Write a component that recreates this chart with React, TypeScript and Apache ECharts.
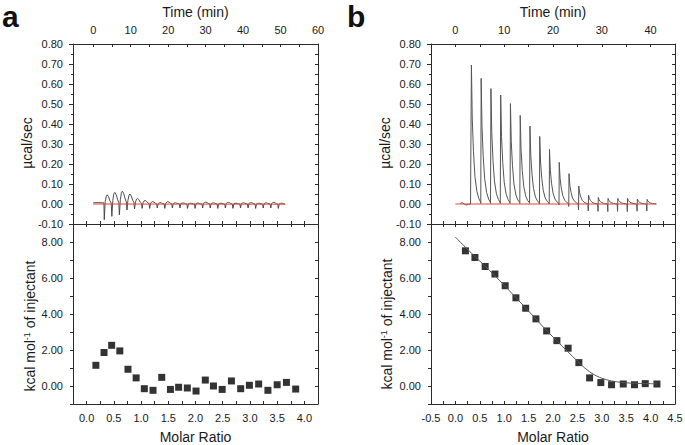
import React, { useEffect, useRef } from 'react';
import * as echarts from 'echarts';

// ---------- Panel a: raw thermogram ----------
const A_INJ_TIMES = [2.85, 4.87, 6.89, 8.91, 10.93, 12.95, 14.97, 16.99, 19.01, 21.03, 23.05, 25.07,
  27.09, 29.11, 31.13, 33.15, 35.17, 37.19, 39.21, 41.23, 43.25, 45.27, 47.29, 49.31];
const A_OFFSETS = [0, 0.1, 0.35, 0.65, 0.9, 1.25, 1.6, 1.95];
const A_PULSES = [
  [0.006, -0.078, 0.012, 0.040, 0.046, 0.036, 0.016, 0.005],
  [0.005, -0.062, 0.018, 0.052, 0.058, 0.047, 0.024, 0.008],
  [0.008, -0.054, 0.022, 0.058, 0.064, 0.052, 0.028, 0.010],
  [0.010, -0.030, 0.018, 0.045, 0.050, 0.040, 0.020, 0.007],
  [0.007, -0.024, 0.010, 0.025, 0.028, 0.022, 0.010, 0.004],
  [0.004, -0.022, 0.006, 0.016, 0.018, 0.014, 0.006, 0.002],
  [0.002, -0.022, 0.004, 0.010, 0.012, 0.009, 0.004, 0.001],
  [0.001, -0.020, 0.002, 0.006, 0.007, 0.005, 0.002, 0.000],
  [0.000, -0.022, 0.004, 0.010, 0.012, 0.009, 0.004, 0.001],
  [0.001, -0.020, 0.002, 0.005, 0.006, 0.004, 0.002, 0.000],
  [0.000, -0.020, 0.002, 0.004, 0.005, 0.004, 0.001, 0.000],
  [0.000, -0.022, 0.001, 0.003, 0.004, 0.003, 0.001, 0.000],
  [0.000, -0.022, 0.002, 0.004, 0.005, 0.003, 0.001, 0.000],
  [0.000, -0.020, 0.004, 0.008, 0.009, 0.007, 0.003, 0.001],
  [0.001, -0.020, 0.002, 0.005, 0.006, 0.004, 0.002, 0.000],
  [0.000, -0.022, 0.001, 0.003, 0.004, 0.003, 0.001, 0.000],
  [0.000, -0.020, 0.003, 0.007, 0.008, 0.006, 0.002, 0.000],
  [0.000, -0.022, 0.001, 0.003, 0.004, 0.003, 0.001, 0.000],
  [0.000, -0.020, 0.002, 0.005, 0.006, 0.004, 0.002, 0.000],
  [0.000, -0.020, 0.003, 0.006, 0.007, 0.005, 0.002, 0.000],
  [0.000, -0.022, 0.001, 0.003, 0.004, 0.003, 0.001, 0.000],
  [0.000, -0.020, 0.002, 0.005, 0.006, 0.004, 0.002, 0.000],
  [0.000, -0.020, 0.003, 0.007, 0.008, 0.006, 0.002, 0.000],
  [0.000, -0.022, 0.001, 0.003, 0.004, 0.003, 0.001, -0.001],
];
const A_PRE = [[0, 0.006], [1.4, 0.007], [2.5, 0.006]];
const A_BASELINE = [[0, 0], [51.2, -0.001]];

// ---------- Panel a: integrated heats ----------
const A_RATIO = [0.17, 0.32, 0.46, 0.61, 0.76, 0.91, 1.06, 1.22, 1.38, 1.54, 1.69, 1.85,
  2.01, 2.18, 2.33, 2.49, 2.66, 2.83, 2.99, 3.16, 3.33, 3.50, 3.67, 3.84];
const A_HEAT = [1.15, 1.86, 2.26, 1.95, 0.93, 0.45, -0.15, -0.24, 0.48, -0.19, -0.07, -0.11,
  -0.28, 0.33, 0.0, -0.19, 0.28, -0.15, 0.04, 0.11, -0.24, 0.07, 0.2, -0.17];

// ---------- Panel b: raw thermogram ----------
const B_INJ_TIMES = [3.2, 5.2, 7.2, 9.2, 11.2, 13.2, 15.2, 17.2, 19.2, 21.2, 23.2, 25.2,
  27.2, 29.2, 31.2, 33.2, 35.2, 37.2, 39.2];
const B_OFFSETS = [0, 0.03, 0.08, 0.25, 0.5, 0.8, 1.2, 1.6, 1.95];
const B_PULSES = [
  [0.000, 0.000, 0.695, 0.430, 0.264, 0.139, 0.063, 0.028, 0.010],
  [0.003, 0.000, 0.628, 0.389, 0.239, 0.126, 0.057, 0.025, 0.009],
  [0.003, 0.000, 0.577, 0.358, 0.219, 0.115, 0.052, 0.023, 0.009],
  [0.003, 0.000, 0.545, 0.338, 0.207, 0.109, 0.049, 0.022, 0.008],
  [0.003, 0.000, 0.502, 0.311, 0.191, 0.100, 0.045, 0.020, 0.008],
  [0.003, 0.000, 0.443, 0.275, 0.168, 0.089, 0.040, 0.018, 0.007],
  [0.003, 0.000, 0.390, 0.242, 0.148, 0.078, 0.035, 0.016, 0.006],
  [0.003, 0.000, 0.338, 0.210, 0.128, 0.068, 0.030, 0.014, 0.005],
  [0.002, 0.000, 0.273, 0.169, 0.104, 0.055, 0.025, 0.011, 0.004],
  [0.002, -0.005, 0.208, 0.129, 0.079, 0.042, 0.019, 0.008, 0.003],
  [0.001, -0.012, 0.152, 0.094, 0.058, 0.030, 0.014, 0.006, 0.002],
  [0.001, -0.030, 0.090, 0.056, 0.034, 0.018, 0.008, 0.004, 0.001],
  [0.000, -0.035, 0.045, 0.028, 0.017, 0.009, 0.004, 0.002, 0.001],
  [0.000, -0.037, 0.033, 0.020, 0.012, 0.007, 0.003, 0.001, 0.000],
  [0.000, -0.038, 0.028, 0.017, 0.011, 0.006, 0.003, 0.001, 0.000],
  [0.000, -0.037, 0.028, 0.017, 0.011, 0.006, 0.003, 0.001, 0.000],
  [0.000, -0.038, 0.028, 0.017, 0.010, 0.006, 0.003, 0.001, 0.000],
  [0.000, -0.036, 0.025, 0.015, 0.009, 0.005, 0.002, 0.001, 0.000],
  [0.000, -0.035, 0.023, 0.014, 0.009, 0.005, 0.002, 0.001, 0.000],
];
const B_PRE = [[1.0, 0.003], [1.4, 0.007], [1.8, 0.0], [2.2, -0.005], [2.7, -0.002], [3.1, 0]];
const B_BASELINE = [[0, 0], [41.2, 0]];

// ---------- Panel b: integrated heats + fit ----------
const B_RATIO = [0.205, 0.40, 0.61, 0.81, 1.02, 1.24, 1.44, 1.65, 1.87, 2.08, 2.31, 2.53,
  2.75, 2.98, 3.20, 3.44, 3.67, 3.89, 4.13];
const B_HEAT = [7.51, 7.14, 6.64, 6.22, 5.57, 4.90, 4.32, 3.73, 3.06, 2.52, 2.10, 1.30,
  0.45, 0.19, 0.07, 0.11, 0.07, 0.13, 0.11];
const B_FIT_X = [0, 0.2, 0.4, 0.6, 0.8, 1.0, 1.2, 1.4, 1.6, 1.8, 2.0, 2.2, 2.4, 2.6, 2.8,
  3.0, 3.2, 3.4, 3.6, 3.8, 4.0, 4.13];
const B_FIT_Y = [8.27, 7.72, 7.2, 6.68, 6.15, 5.6, 5.02, 4.45, 3.87, 3.28, 2.72, 2.18, 1.65,
  1.12, 0.7, 0.43, 0.28, 0.2, 0.16, 0.14, 0.13, 0.12];

// ---------- Tick labels ----------
const A_TIME_LABELS = [0, 10, 20, 30, 40, 50, 60];
const A_TIME_TICKS = [0, 5, 10, 15, 20, 25, 30, 35, 40, 45, 50, 55, 60];
const B_TIME_LABELS = [0, 10, 20, 30, 40];
const HEAT_LABELS = [0, 2, 4, 6, 8];

const FONT = '"Liberation Sans", Arial, Helvetica, sans-serif';
const AX = '#2b2b2b';
const TXT = '#1a1a1a';

function buildTrace(pre: number[][], times: number[], offsets: number[], rows: number[][]) {
  const out: number[][] = pre.map((p) => [p[0], p[1]]);
  times.forEach((t, i) => {
    offsets.forEach((o, j) => out.push([t + o, rows[i][j]]));
  });
  return out;
}

function axisBase(extra: any) {
  return {
    type: 'value',
    splitLine: { show: false },
    axisLine: { show: true, onZero: false, lineStyle: { color: AX, width: 1 } },
    axisTick: { show: true, inside: true, length: 3, lineStyle: { color: AX, width: 1 } },
    axisLabel: { show: false },
    ...extra,
  };
}

const labelStyle = { show: true, fontSize: 11, color: TXT, fontFamily: FONT };
const nameStyle = { fontSize: 14, color: TXT, fontFamily: FONT };

const isHalf = (v: number) => Math.abs(v * 2 - Math.round(v * 2)) < 1e-6;

const option: any = {
  animation: false,
  backgroundColor: '#ffffff',
  grid: [
    { left: 73, top: 44, width: 245, height: 180, outerBoundsMode: 'none', containLabel: false },
    { left: 73, top: 224, width: 245, height: 180, outerBoundsMode: 'none', containLabel: false },
    { left: 431, top: 44, width: 244, height: 180, outerBoundsMode: 'none', containLabel: false },
    { left: 431, top: 224, width: 244, height: 180, outerBoundsMode: 'none', containLabel: false },
  ],
  xAxis: [
    axisBase({
      gridIndex: 0, position: 'top', min: -5.4, max: 60,
      axisTick: { show: true, inside: true, length: 3, lineStyle: { color: AX }, customValues: A_TIME_TICKS },
      axisLabel: { ...labelStyle, margin: 9, customValues: A_TIME_LABELS },
      name: 'Time (min)', nameLocation: 'middle', nameGap: 25, nameTextStyle: nameStyle,
    }),
    axisBase({ gridIndex: 0, position: 'bottom', min: -0.25, max: 4.25, interval: 0.25 }),
    axisBase({
      gridIndex: 1, position: 'bottom', min: -0.25, max: 4.25, interval: 0.25,
      axisLabel: { ...labelStyle, margin: 8, formatter: (v: number) => (isHalf(v) && v >= 0 && v <= 4 ? v.toFixed(1) : '') },
      name: 'Molar Ratio', nameLocation: 'middle', nameGap: 26, nameTextStyle: nameStyle,
    }),
    axisBase({ gridIndex: 1, position: 'top', min: -0.25, max: 4.25, interval: 0.25 }),
    axisBase({
      gridIndex: 2, position: 'top', min: -5, max: 45, interval: 5,
      axisLabel: { ...labelStyle, margin: 9, customValues: B_TIME_LABELS },
      name: 'Time (min)', nameLocation: 'middle', nameGap: 25, nameTextStyle: nameStyle,
    }),
    axisBase({ gridIndex: 2, position: 'bottom', min: -0.5, max: 4.5, interval: 0.25 }),
    axisBase({
      gridIndex: 3, position: 'bottom', min: -0.5, max: 4.5, interval: 0.25,
      axisLabel: { ...labelStyle, margin: 8, formatter: (v: number) => (isHalf(v) ? v.toFixed(1) : '') },
      name: 'Molar Ratio', nameLocation: 'middle', nameGap: 26, nameTextStyle: nameStyle,
    }),
    axisBase({ gridIndex: 3, position: 'top', min: -0.5, max: 4.5, interval: 0.25 }),
  ],
  yAxis: [
    axisBase({
      gridIndex: 0, position: 'left', min: -0.1, max: 0.8, interval: 0.1,
      axisTick: { show: true, inside: false, length: 4, lineStyle: { color: AX } },
      minorTick: { show: true, splitNumber: 2, length: 2, lineStyle: { color: AX } },
      axisLabel: { ...labelStyle, margin: 10, formatter: (v: number) => v.toFixed(2) },
    }),
    axisBase({ gridIndex: 0, position: 'right', min: -0.1, max: 0.8, interval: 0.05 }),
    axisBase({
      gridIndex: 1, position: 'left', min: -1, max: 9, interval: 1,
      axisTick: { show: true, inside: false, length: 3, lineStyle: { color: AX } },
      axisLabel: { ...labelStyle, margin: 10, customValues: HEAT_LABELS, formatter: (v: number) => v.toFixed(2) },
    }),
    axisBase({ gridIndex: 1, position: 'right', min: -1, max: 9, interval: 1 }),
    axisBase({
      gridIndex: 2, position: 'left', min: -0.1, max: 0.8, interval: 0.1,
      axisTick: { show: true, inside: false, length: 4, lineStyle: { color: AX } },
      minorTick: { show: true, splitNumber: 2, length: 2, lineStyle: { color: AX } },
      axisLabel: { ...labelStyle, margin: 10, formatter: (v: number) => v.toFixed(2) },
    }),
    axisBase({ gridIndex: 2, position: 'right', min: -0.1, max: 0.8, interval: 0.05 }),
    axisBase({
      gridIndex: 3, position: 'left', min: -1, max: 9, interval: 1,
      axisTick: { show: true, inside: false, length: 3, lineStyle: { color: AX } },
      axisLabel: { ...labelStyle, margin: 10, customValues: HEAT_LABELS, formatter: (v: number) => v.toFixed(2) },
    }),
    axisBase({ gridIndex: 3, position: 'right', min: -1, max: 9, interval: 1 }),
  ],
  series: [
    {
      type: 'line', xAxisIndex: 0, yAxisIndex: 0, showSymbol: false, symbol: 'none',
      data: buildTrace(A_PRE, A_INJ_TIMES, A_OFFSETS, A_PULSES),
      lineStyle: { color: '#3c3c3c', width: 0.9 },
    },
    {
      type: 'line', xAxisIndex: 0, yAxisIndex: 0, showSymbol: false, symbol: 'none',
      data: A_BASELINE, lineStyle: { color: '#e0453c', width: 1 },
    },
    {
      type: 'scatter', xAxisIndex: 2, yAxisIndex: 2, symbol: 'rect', symbolSize: 7,
      data: A_RATIO.map((x, i) => [x, A_HEAT[i]]), itemStyle: { color: '#000' },
    },
    {
      type: 'line', xAxisIndex: 4, yAxisIndex: 4, showSymbol: false, symbol: 'none',
      data: buildTrace(B_PRE, B_INJ_TIMES, B_OFFSETS, B_PULSES),
      lineStyle: { color: '#555', width: 1 },
    },
    {
      type: 'line', xAxisIndex: 4, yAxisIndex: 4, showSymbol: false, symbol: 'none',
      data: B_BASELINE, lineStyle: { color: '#e0453c', width: 1 },
    },
    {
      type: 'line', xAxisIndex: 6, yAxisIndex: 6, showSymbol: false, symbol: 'none', smooth: 0.3,
      data: B_FIT_X.map((x, i) => [x, B_FIT_Y[i]]), lineStyle: { color: '#555', width: 1 },
    },
    {
      type: 'scatter', xAxisIndex: 6, yAxisIndex: 6, symbol: 'rect', symbolSize: 7,
      data: B_RATIO.map((x, i) => [x, B_HEAT[i]]), itemStyle: { color: '#000' },
    },
  ],
  graphic: [
    { type: 'text', x: 2, y: 16, style: { text: 'a', fontSize: 30, fontWeight: 'bold', fontFamily: FONT, fill: '#111', verticalAlign: 'middle' } },
    { type: 'text', x: 347, y: 16, style: { text: 'b', fontSize: 30, fontWeight: 'bold', fontFamily: FONT, fill: '#111', verticalAlign: 'middle' } },
    { type: 'text', x: 27, y: 143, rotation: Math.PI / 2, style: { text: 'µcal/sec', fontSize: 14, fontFamily: FONT, fill: TXT, align: 'center', verticalAlign: 'middle' } },
    { type: 'text', x: 385, y: 143, rotation: Math.PI / 2, style: { text: 'µcal/sec', fontSize: 14, fontFamily: FONT, fill: TXT, align: 'center', verticalAlign: 'middle' } },
    {
      type: 'text', x: 30, y: 326, rotation: Math.PI / 2,
      style: {
        text: 'kcal mol{sup|-1} of injectant', fontSize: 14, lineHeight: 16, fontFamily: FONT, fill: TXT,
        align: 'center', verticalAlign: 'middle',
        rich: { sup: { fontSize: 9, lineHeight: 10, verticalAlign: 'top', fontFamily: FONT, fill: TXT } },
      },
    },
    {
      type: 'text', x: 387, y: 324, rotation: Math.PI / 2,
      style: {
        text: 'kcal mol{sup|-1} of injectant', fontSize: 14, lineHeight: 16, fontFamily: FONT, fill: TXT,
        align: 'center', verticalAlign: 'middle',
        rich: { sup: { fontSize: 9, lineHeight: 10, verticalAlign: 'top', fontFamily: FONT, fill: TXT } },
      },
    },
  ],
};

export default function App() {
  const ref = useRef<HTMLDivElement>(null);
  useEffect(() => {
    document.body.style.margin = '0';
    const chart = echarts.init(ref.current as HTMLDivElement, null, { renderer: 'svg' });
    chart.setOption(option);
    return () => chart.dispose();
  }, []);
  return <div ref={ref} style={{ width: 685, height: 445, position: 'absolute', left: 0, top: 0 }} />;
}
